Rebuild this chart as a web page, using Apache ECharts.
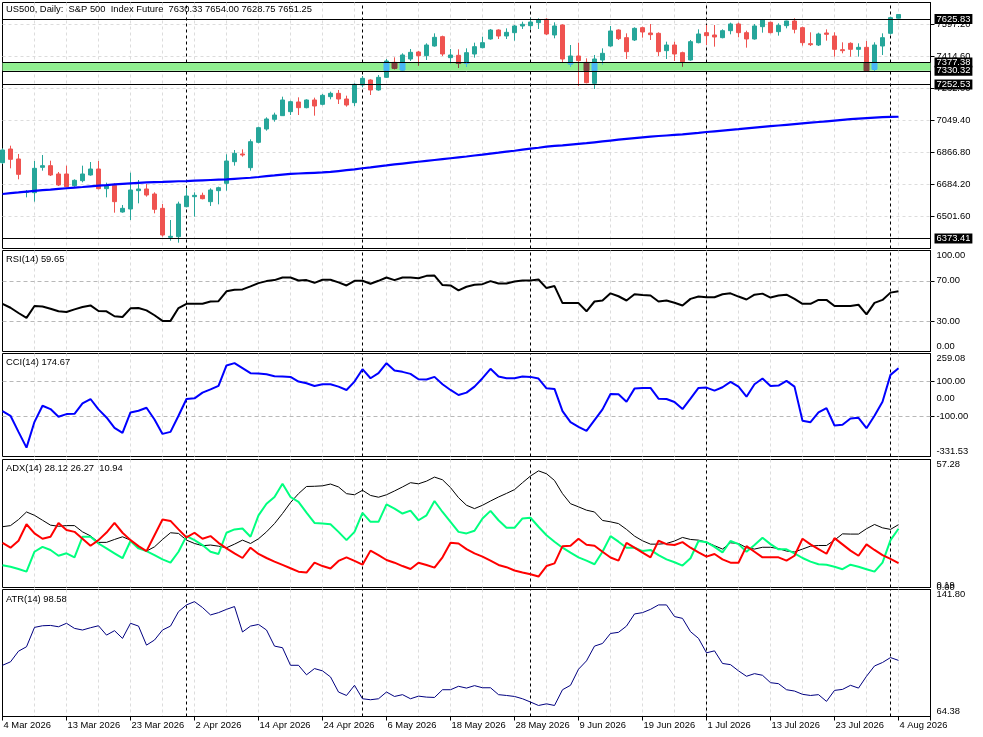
<!DOCTYPE html>
<html><head><meta charset="utf-8">
<script src="https://cdn.jsdelivr.net/npm/echarts@6/dist/echarts.min.js"></script>
<style>html,body{margin:0;padding:0;background:#fff;}#c{width:983px;height:737px;}</style>
</head><body><div id="c"></div>
<script>
// ---- tick labels (one every 8 bars) ----
const tickLabels = ['4 Mar 2026','13 Mar 2026','23 Mar 2026','2 Apr 2026','14 Apr 2026','24 Apr 2026','6 May 2026','18 May 2026','28 May 2026','9 Jun 2026','19 Jun 2026','1 Jul 2026','13 Jul 2026','23 Jul 2026','4 Aug 2026'];
const TICK_EVERY = 8;
const SLOTS = 117; // 113 daily bars + empty right margin
const separators = [23, 45, 66, 88, 111];

// ---- price data ----
const opens = [6805.9,6883.9,6826.9,6636.7,6634.7,6779.3,6788.8,6741.3,6741.3,6674.7,
6703.2,6735.6,6769.8,6657.6,6676.6,6524.4,6541.6,6646.2,6655.7,6627.1,
6545.4,6379.9,6383.7,6554.9,6611.9,6619.5,6583.4,6646.2,6688.0,6811.6,
6855.4,6777.4,6921.9,6998.0,7053.2,7074.1,7096.9,7152.1,7119.8,7163.5,
7138.8,7182.5,7201.5,7169.2,7148.3,7249.1,7277.6,7220.6,7292.8,7378.4,
7334.7,7397.5,7437.4,7416.5,7471.6,7524.9,7405.1,7418.4,7372.7,7425.9,
7462.1,7511.6,7562.9,7528.7,7547.7,7585.8,7587.6,7604.8,7623.8,7534.4,
7591.5,7368.9,7414.6,7378.4,7258.6,7391.7,7471.6,7562.9,7519.2,7505.9,
7576.2,7545.8,7543.9,7445.0,7477.3,7433.6,7391.7,7490.6,7547.7,7534.4,
7519.2,7559.1,7597.2,7547.7,7511.6,7581.9,7606.7,7553.4,7587.6,7614.3,
7576.2,7484.9,7477.3,7545.8,7528.7,7450.7,7486.8,7452.6,7464.0,7338.5,
7471.6,7543.9,7630.33];
const closes = [6878.2,6825.0,6739.4,6640.5,6773.6,6788.8,6735.6,6678.5,6669.0,6705.1,
6741.3,6769.8,6657.6,6672.8,6583.4,6545.4,6650.0,6655.7,6621.4,6539.7,
6393.2,6385.6,6570.1,6615.7,6619.5,6600.5,6650.0,6663.3,6815.4,6859.2,
6849.7,6925.7,7005.6,7055.1,7077.9,7163.5,7154.0,7119.8,7163.5,7129.3,
7190.1,7201.5,7169.2,7135.0,7252.9,7287.1,7220.6,7292.8,7386.0,7344.2,
7420.3,7435.5,7416.5,7477.3,7521.1,7426.0,7420.3,7372.7,7433.6,7467.8,
7490.6,7562.9,7528.7,7549.6,7585.8,7595.3,7608.6,7620.0,7540.1,7585.8,
7397.5,7414.6,7387.9,7262.4,7397.5,7429.8,7557.2,7513.5,7439.3,7572.4,
7551.5,7536.3,7439.3,7477.3,7425.9,7382.2,7496.3,7540.1,7530.6,7523.0,
7559.1,7597.2,7547.7,7511.6,7585.8,7620.0,7547.7,7589.6,7614.3,7566.7,
7490.6,7479.2,7540.1,7538.2,7452.6,7445.0,7452.6,7464.0,7329.0,7477.3,
7519.2,7633.3,7651.25];
const lows = [6798.3,6773.6,6710.8,6608.1,6583.4,6760.3,6729.8,6672.8,6665.2,6669.0,
6693.7,6731.7,6653.8,6608.1,6520.6,6520.6,6478.8,6573.9,6612.0,6516.8,
6383.7,6360.8,6349.4,6551.1,6497.8,6596.7,6558.7,6568.2,6646.2,6788.8,
6840.2,6760.3,6916.2,6988.5,7039.9,7072.2,7077.9,7077.9,7116.0,7074.1,
7133.1,7167.3,7140.7,7125.5,7129.3,7235.8,7192.0,7216.8,7289.0,7338.5,
7329.0,7386.0,7359.4,7391.7,7467.8,7414.6,7372.7,7346.1,7353.7,7405.1,
7458.3,7507.8,7511.6,7511.6,7502.1,7568.6,7566.7,7568.6,7534.4,7515.4,
7378.4,7353.7,7243.4,7258.6,7226.3,7367.0,7467.8,7505.9,7397.5,7500.2,
7519.2,7505.9,7414.6,7397.5,7386.0,7353.7,7387.9,7486.8,7477.3,7467.8,
7515.4,7538.2,7521.1,7462.1,7507.8,7547.7,7543.9,7530.6,7572.4,7543.9,
7473.5,7471.6,7471.6,7502.1,7410.8,7429.8,7410.8,7410.8,7325.2,7329.0,
7420.3,7536.3,7628.75];
const highs = [6887.7,6902.9,6855.4,6650.0,6815.4,6849.7,6817.3,6752.7,6788.8,6710.8,
6788.8,6809.7,6815.4,6691.8,6688.0,6564.4,6748.9,6707.0,6684.2,6636.7,
6570.1,6478.8,6583.4,6659.5,6636.7,6634.7,6659.5,6669.0,6853.5,6878.2,
6882.0,6939.1,7011.3,7064.6,7091.2,7182.5,7159.7,7178.7,7167.3,7176.8,
7197.7,7211.1,7220.6,7188.2,7258.6,7300.4,7281.4,7306.2,7397.5,7407.0,
7429.8,7454.5,7443.1,7486.8,7543.9,7530.6,7454.5,7452.6,7458.3,7490.6,
7524.9,7568.6,7566.7,7572.4,7591.5,7610.5,7629.5,7629.5,7629.5,7606.7,
7595.3,7477.3,7490.6,7401.3,7420.3,7458.3,7585.8,7566.7,7543.9,7578.1,
7581.9,7597.2,7549.6,7496.3,7496.3,7439.3,7505.9,7566.7,7591.5,7591.5,
7566.7,7604.8,7604.8,7559.1,7597.2,7625.7,7610.5,7601.0,7616.2,7629.5,
7581.9,7549.6,7547.7,7566.7,7549.6,7492.6,7492.6,7486.8,7500.2,7492.6,
7543.9,7639.0,7654.00];
const ma = [6627,6632,6636,6641,6645,6649,6652,6656,6660,6664,
6667,6671,6675,6678,6682,6685,6688,6691,6693,6695,
6696,6698,6700,6701,6703,6705,6707,6709,6711,6714,
6717,6720,6724,6729,6733,6738,6742,6744,6746,6748,
6750,6753,6758,6763,6768,6774,6779,6785,6790,6796,
6801,6806,6811,6816,6821,6826,6831,6836,6841,6847,
6852,6858,6863,6869,6874,6880,6886,6891,6897,6902,
6905,6909,6913,6917,6922,6927,6932,6937,6942,6946,
6950,6954,6958,6961,6964,6967,6972,6976,6981,6985,
6989,6993,6997,7002,7006,7010,7014,7018,7022,7026,
7030,7034,7038,7042,7046,7050,7054,7057,7060,7063,
7066,7067,7068];
const priceTicks = [6501.60, 6684.20, 6866.80, 7049.40, 7232.00, 7414.60, 7597.20];
const priceLevels = [7625.83, 7377.38, 7330.32, 7252.53, 6373.41];
const band = [7330.32, 7377.38];

// ---- indicators ----
const rsi = [47.2,43.3,38.1,33.3,45.0,44.6,42.4,39.8,39.1,41.7,
44.0,45.6,40.1,39.8,34.9,34.2,42.7,43.0,40.7,35.9,
30.3,30.3,43.0,47.2,47.2,47.2,49.5,49.8,59.6,61.2,
61.5,64.5,67.7,69.7,70.7,73.3,73.3,70.3,70.7,68.0,
71.0,71.0,68.4,65.4,70.0,70.0,67.1,70.0,73.3,70.7,
73.3,73.3,72.6,74.9,75.2,65.8,65.4,60.6,64.1,66.1,
66.7,69.7,67.4,67.4,69.3,70.3,70.3,71.3,62.8,64.8,
47.9,47.9,47.9,39.8,49.5,50.5,57.6,54.7,50.5,56.7,
56.0,55.4,49.5,50.5,48.2,45.6,52.1,54.4,53.7,53.7,
56.7,57.6,54.4,51.5,56.3,57.3,53.4,55.4,56.3,52.1,
47.2,47.2,51.1,51.1,45.0,45.0,45.0,46.3,36.8,48.2,
51.1,58.3,59.65];
const cci = [-71.2,-98.1,-190.4,-280.8,-132.7,-40.4,-59.6,-103.8,-88.5,-86.5,
-26.9,-1.9,-61.5,-107.7,-167.3,-196.2,-78.8,-69.2,-51.9,-119.2,
-201.9,-190.4,-98.1,-1.9,1.9,34.6,53.8,73.1,190.4,203.8,
175.0,146.2,144.2,140.4,128.8,126.9,125.0,98.1,88.5,73.1,
82.7,82.7,69.2,50.0,98.1,169.2,117.3,146.2,203.8,161.5,
153.8,142.3,111.5,109.6,125.0,82.7,50.0,21.2,34.6,69.2,
117.3,171.2,126.9,117.3,117.3,126.9,125.0,115.4,59.6,55.8,
-71.2,-134.6,-161.5,-184.6,-123.1,-61.5,26.9,25.0,-17.3,57.7,
61.5,61.5,0.0,-1.9,-19.2,-59.6,0.0,61.5,63.5,46.2,
65.4,96.2,69.2,11.5,82.7,115.4,73.1,75.0,101.9,69.2,
-126.9,-134.6,-78.8,-53.8,-153.8,-150.0,-113.5,-109.6,-169.2,-98.1,
-17.3,136.5,174.67];
const adx = [27.2,27.7,30.4,33.8,32.3,30.1,27.9,27.4,27.7,27.7,
24.9,23.1,20.2,20.2,21.5,22.7,21.2,17.8,16.3,18.2,
21.5,24.5,24.2,21.2,19.7,18.7,19.0,18.5,17.8,19.4,
21.2,19.7,21.8,24.9,28.6,33.1,38.0,42.0,45.2,45.3,
45.5,46.3,45.0,42.0,41.5,43.5,41.2,40.4,41.5,43.2,
45.0,46.9,46.4,47.6,49.4,48.2,44.7,40.2,36.8,35.3,
36.8,38.7,40.5,42.1,43.8,46.9,49.9,52.2,50.9,47.9,
42.0,37.5,36.1,34.6,33.8,30.0,29.4,28.6,26.0,23.0,
20.9,19.4,19.4,19.7,20.8,22.4,21.5,21.2,20.3,18.7,
17.2,20.0,19.7,17.8,17.2,18.0,18.0,17.4,16.3,15.9,
17.2,18.5,18.8,18.8,21.2,24.0,23.9,23.9,26.3,28.2,
26.7,26.0,28.12];
const plusDI = [10.0,9.3,8.3,7.1,16.0,18.2,16.8,14.2,15.3,13.5,
22.7,22.7,19.7,17.5,15.3,13.1,20.8,17.5,16.3,14.5,
12.6,11.1,16.0,23.0,21.2,19.0,16.0,15.0,24.5,26.0,
26.4,22.7,32.3,37.5,40.5,46.4,40.5,38.3,33.5,28.9,
28.6,28.3,24.9,21.2,24.9,33.4,29.4,29.4,37.2,35.3,
33.1,34.4,30.1,32.3,38.7,33.8,29.4,24.9,24.2,25.4,
30.9,34.3,30.1,26.7,26.7,30.9,31.2,27.2,23.4,20.5,
17.8,15.6,13.5,12.0,10.4,16.0,23.0,20.5,17.8,17.8,
16.3,16.8,14.5,12.6,11.3,9.8,13.1,20.8,20.3,18.2,
15.7,20.8,19.4,16.0,19.0,22.3,19.4,17.1,17.1,15.3,
13.2,11.6,10.4,10.2,9.3,8.2,10.2,9.3,8.2,7.1,
11.1,21.2,26.27];
const minusDI = [20.0,17.8,20.9,28.3,24.2,21.8,22.7,28.9,25.7,24.9,
21.8,18.7,21.2,24.6,28.9,24.5,21.2,18.5,16.3,23.4,
30.4,29.8,26.0,22.4,24.5,21.8,23.0,20.0,17.5,15.3,
13.2,17.8,15.0,13.2,11.6,10.1,8.6,7.1,6.7,11.1,
9.6,8.5,11.9,13.5,11.9,10.2,16.5,14.5,12.3,11.1,
9.6,8.3,11.1,10.1,8.9,13.5,20.0,19.7,17.2,15.3,
13.8,12.0,10.1,9.1,7.6,6.7,5.9,4.9,9.6,10.8,
18.5,18.7,21.8,19.1,18.7,16.0,13.4,12.0,20.0,17.8,
15.6,13.5,20.9,19.4,19.0,20.3,17.8,15.7,13.8,15.0,
12.6,11.1,11.1,18.5,16.0,13.5,13.5,13.5,12.0,14.2,
21.8,19.3,17.2,15.1,22.1,19.3,16.5,14.2,19.3,16.8,
14.5,12.8,10.94];
const atr = [95.6,97.7,104.2,106.9,118.7,119.7,119.9,119.1,121.2,118.1,
117.1,118.5,119.7,114.0,116.7,112.0,121.2,119.5,107.9,111.0,
117.1,119.5,128.3,132.4,134.4,130.8,126.3,127.7,129.7,131.4,
115.9,119.5,120.5,117.1,107.3,106.3,95.6,95.6,89.8,93.6,
92.2,88.5,79.3,77.2,83.4,75.2,74.6,75.2,79.3,76.6,
77.7,75.2,76.8,76.2,76.0,80.7,80.7,82.8,81.7,83.2,
81.9,81.9,77.7,77.2,76.6,75.2,73.2,71.1,72.1,71.1,
80.7,83.4,93.2,98.3,107.3,108.9,115.0,115.7,119.5,126.9,
127.7,129.7,132.4,132.4,125.3,124.2,116.1,112.0,103.2,104.4,
96.7,96.0,92.2,88.9,90.5,89.5,85.0,84.4,80.7,79.9,
77.9,77.2,77.7,73.6,80.3,80.9,83.4,81.7,88.9,95.2,
97.3,100.3,98.58];
const adxMinLabel = '0.19'; // printed just above the 0.00 label

const titles = [
  ['US500, Daily:  S&P 500  Index Future  7630.33 7654.00 7628.75 7651.25', 9.5],
  ['RSI(14) 59.65', 259.3],
  ['CCI(14) 174.67', 362.3],
  ['ADX(14) 28.12 26.27  10.94', 468.3],
  ['ATR(14) 98.58', 599.3]
];

// ---- styles / layout ----
const FF = 'Liberation Sans';
const FS = 9.4;
const BULL = '#26a69a', BEAR = '#ef5350';
const BULL_X = '#49b7f5', BEAR_X = '#80423f'; // colours inside the XOR band
const panes = [
  {top: 2.5, height: 246},
  {top: 250.5, height: 101},
  {top: 353.5, height: 103},
  {top: 459.5, height: 128},
  {top: 589.5, height: 127}
];
const cats = Array.from({length: SLOTS}, (_, i) => String(i));
const gridLine = {color: '#dcdcdc', type: [3, 3], width: 1};
const sepLine = {color: '#000', type: [3, 3], width: 1};
const levelLine = {color: '#b8b8b8', type: [4, 3], width: 1};
const txt = {fontFamily: FF, fontSize: FS, color: '#000'};
const rich = {
  t: Object.assign({padding: [10, 0, 0, 0]}, txt),
  b: Object.assign({padding: [0, 0, 11, 0]}, txt),
  o: Object.assign({lineHeight: 5}, txt),
  z: Object.assign({lineHeight: 5, padding: [0, 0, 6, 0]}, txt)
};

const grids = panes.map(p => ({left: 2.5, width: 928, top: p.top, height: p.height, show: true,
  borderColor: '#000', borderWidth: 1, backgroundColor: 'transparent', containLabel: false, outerBoundsMode: 'none'}));

const xAxes = panes.map((p, k) => ({
  type: 'category', gridIndex: k, data: cats, boundaryGap: false,
  axisLine: {show: k === 4, lineStyle: {color: '#000'}},
  axisTick: {show: k === 4, interval: TICK_EVERY - 1, length: 4, lineStyle: {color: '#000'}},
  axisLabel: {show: k === 4, interval: TICK_EVERY - 1, align: 'left', margin: 4, padding: [0, 0, 0, 1],
    fontFamily: FF, fontSize: FS, color: '#000', showMinLabel: true, showMaxLabel: true, hideOverlap: false,
    formatter: (v, idx) => (idx % TICK_EVERY === 0 && tickLabels[idx / TICK_EVERY]) ? tickLabels[idx / TICK_EVERY] : ''},
  splitLine: {show: true, interval: (idx) => idx % 4 === 0 && idx > 0 && idx < SLOTS - 1, lineStyle: gridLine}
}));

function yAx(k, min, max, labels, ticks, fmt) {
  return {
    type: 'value', gridIndex: k, position: 'right', min, max, scale: true,
    axisLine: {show: true, lineStyle: {color: '#000'}},
    axisTick: {show: ticks.length > 0, customValues: ticks, length: 4, lineStyle: {color: '#000'}},
    axisLabel: {customValues: labels, margin: 6, fontFamily: FF, fontSize: FS, color: '#000', rich, formatter: fmt,
      showMinLabel: true, showMaxLabel: true, hideOverlap: false},
    splitLine: {show: false}
  };
}
const edgeFmt = (top, bot) => v => {
  const s = v.toFixed(2);
  if (Math.abs(v - top) < 1e-6) return '{t|' + s + '}';
  if (Math.abs(v - bot) < 1e-6) return '{b|' + s + '}';
  return s;
};
const adxFmt = v => v === 0 ? '{o|' + adxMinLabel + '}\n{z|' + v.toFixed(2) + '}' : '{t|' + v.toFixed(2) + '}';
const yAxes = [
  yAx(0, 6316.2, 7719.8, priceTicks, priceTicks, v => v.toFixed(2)),
  yAx(1, 0, 100, [0, 30, 70, 100], [30, 70], edgeFmt(100, 0)),
  yAx(2, -331.53, 259.08, [-331.53, -100, 0, 100, 259.08], [-100, 100], edgeFmt(259.08, -331.53)),
  yAx(3, 0, 57.28, [0, 57.28], [], adxFmt),
  yAx(4, 64.38, 141.80, [64.38, 141.80], [], edgeFmt(141.80, 64.38))
];

const sepData = separators.map(i => ({xAxis: i, lineStyle: sepLine}));
function levels(vals) { return vals.map(v => ({yAxis: v, lineStyle: levelLine})); }
function helperMarkLine(extra) {
  return {z: 1, silent: true, symbol: ['none', 'none'], label: {show: false}, animation: false,
    data: extra.concat(sepData)};
}
function lineSeries(k, data, color, width, extraMark) {
  const s = {type: 'line', xAxisIndex: k, yAxisIndex: k, data, symbol: 'none', showSymbol: false,
    lineStyle: {color, width}, itemStyle: {color}, z: 2, silent: true, animation: false};
  if (extraMark) s.markLine = helperMarkLine(extraMark);
  return s;
}

const candleData = opens.map((o, i) => [o, closes[i], lows[i], highs[i]]);
const barData = opens.map((o, i) => [i, o, closes[i], lows[i], highs[i]]);

const series = [
  { // XOR band
    type: 'custom', xAxisIndex: 0, yAxisIndex: 0, z: 1, silent: true, clip: true,
    data: [[0, band[0], band[1]]], encode: {x: 0, y: [1, 2]},
    renderItem: (params, api) => {
      const p1 = api.coord([0, band[1]]), p2 = api.coord([SLOTS - 1, band[0]]);
      return {type: 'rect', shape: {x: p1[0], y: p1[1], width: p2[0] - p1[0], height: p2[1] - p1[1]},
        style: {fill: '#90ee90'}};
    },
    markLine: helperMarkLine(priceTicks.map(v => ({yAxis: v, lineStyle: gridLine})))
  },
  {
    type: 'candlestick', xAxisIndex: 0, yAxisIndex: 0, data: candleData, barWidth: 5, z: 2, silent: true,
    itemStyle: {color: BULL, color0: BEAR, borderColor: BULL, borderColor0: BEAR, borderWidth: 1},
    markLine: {silent: true, symbol: ['none', 'none'], animation: false,
      data: priceLevels.map(v => ({yAxis: v, lineStyle: {color: '#000', width: 1, type: 'solid'},
        label: {show: true, position: 'end', distance: 4, formatter: v.toFixed(2), backgroundColor: '#000',
          color: '#fff', padding: [1, 2, 0, 2], fontFamily: FF, fontSize: FS}}))}
  },
  { // candle parts inside the band, drawn with blended colours
    type: 'custom', xAxisIndex: 0, yAxisIndex: 0, z: 3, silent: true, clip: true,
    data: barData, encode: {x: 0, y: [1, 2, 3, 4]},
    renderItem: (params, api) => {
      const i = api.value(0), o = api.value(1), c = api.value(2), l = api.value(3), h = api.value(4);
      const lo = band[0], hi = band[1];
      const col = c >= o ? BULL_X : BEAR_X;
      const children = [];
      const wl = Math.max(l, lo), wh = Math.min(h, hi);
      if (wh > wl) {
        const a = api.coord([i, wh]), b = api.coord([i, wl]);
        children.push({type: 'line', shape: {x1: a[0], y1: a[1], x2: b[0], y2: b[1]}, style: {stroke: col, lineWidth: 1}});
      }
      const bl = Math.max(Math.min(o, c), lo), bh = Math.min(Math.max(o, c), hi);
      if (bh > bl) {
        const a = api.coord([i, bh]), b = api.coord([i, bl]);
        children.push({type: 'rect', shape: {x: a[0] - 2.5, y: a[1], width: 5, height: b[1] - a[1]},
          style: {fill: col, stroke: col, lineWidth: 1}});
      }
      return {type: 'group', children};
    }
  },
  Object.assign(lineSeries(0, ma, '#0000ff', 2.2), {z: 4}),
  lineSeries(1, rsi, '#000000', 2, levels([30, 70])),
  lineSeries(2, cci, '#0000ff', 2, levels([100, -100])),
  lineSeries(3, adx, '#000000', 1, []),
  lineSeries(3, plusDI, '#00ff7f', 2),
  lineSeries(3, minusDI, '#ff0000', 2),
  lineSeries(4, atr, '#000080', 1, [])
];

const chart = echarts.init(document.getElementById('c'), null, {renderer: 'canvas'});
chart.setOption({
  animation: false,
  backgroundColor: '#ffffff',
  grid: grids, xAxis: xAxes, yAxis: yAxes, series,
  graphic: titles.map(t => ({type: 'text', x: 6, y: t[1], z: 100, silent: true,
    style: {text: t[0], fill: '#000', font: FS + 'px "' + FF + '"', verticalAlign: 'middle', align: 'left'}}))
});
</script></body></html>
